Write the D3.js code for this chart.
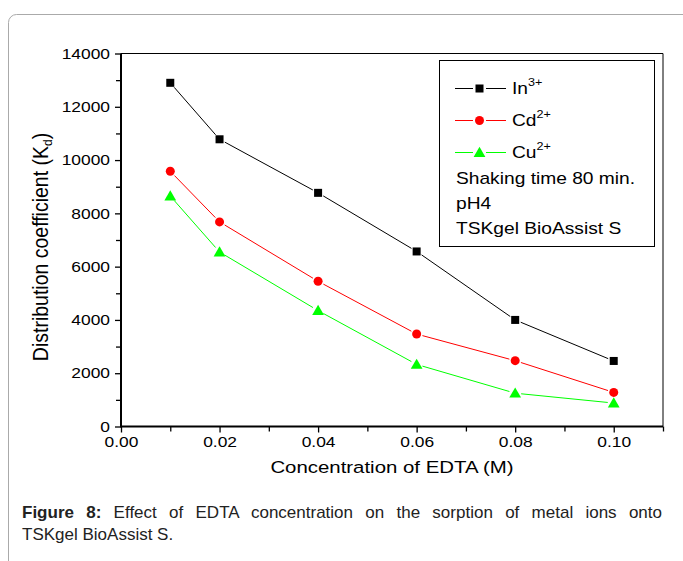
<!DOCTYPE html>
<html lang="en">
	<head>
		<meta charset="utf-8">
		<title>Effect of EDTA concentration</title>
		<style type="text/css">
			body { margin: 0; background: #fff; }
			#wrap { position: relative; width: 683px; height: 561px; overflow: hidden; }
			.cap {
				position: absolute; left: 22px; width: 640px;
				font-family: "Liberation Sans", Arial, sans-serif; font-size: 17px;
				line-height: 20px; color: #222; white-space: nowrap;
			}
			#cap1 { top: 503px; text-align: justify; text-align-last: justify; white-space: normal; }
			#cap2 { top: 525px; }
		</style>
	</head>
	<body>
		<div id="wrap">
			<div class="cap" id="cap1"><b>Figure 8:</b> Effect of EDTA concentration on the sorption of metal ions onto</div>
			<div class="cap" id="cap2">TSKgel BioAssist S.</div>
		</div>
		<script src="https://d3js.org/d3.v7.min.js"></script>
		<script type="text/javascript">
			//Width and height
			var w = 683;
			var h = 561;

			//Data
			var edta = [0.01, 0.02, 0.04, 0.06, 0.08, 0.10];
			var indium = [12900, 10780, 8770, 6570, 4000, 2460];
			var cadmium = [9580, 7680, 5450, 3470, 2470, 1280];
			var copper = [8650, 6550, 4350, 2330, 1250, 880];
			var xTicks = [0, 0.02, 0.04, 0.06, 0.08, 0.10];
			var yTicks = [0, 2000, 4000, 6000, 8000, 10000, 12000, 14000];

			var series = [
				{ name: "In", sup: "3+", values: indium, color: "#000000", shape: "square" },
				{ name: "Cd", sup: "2+", values: cadmium, color: "#ff0000", shape: "circle" },
				{ name: "Cu", sup: "2+", values: copper, color: "#00ff00", shape: "triangle" }
			];
			var notes = ["Shaking time 80 min.", "pH4", "TSKgel BioAssist S"];

			var font = "'Liberation Sans', Arial, sans-serif";
			var stretch = 1.2; // the chart text is drawn a bit wide

			var xScale = d3.scaleLinear().domain([0, 0.11]).range([121, 663]);
			var yScale = d3.scaleLinear().domain([0, 14000]).range([426.5, 53.5]);

			var svg = d3.select("#wrap")
						.insert("svg", "#cap1")
						.attr("width", w)
						.attr("height", h)
						.style("position", "absolute")
						.style("left", 0)
						.style("top", 0);

			//widen a text around its own x
			function widen(sel, s) {
				sel.each(function() {
					var t = d3.select(this);
					var x = +t.attr("x") || 0;
					t.attr("transform", "translate(" + x + ",0) scale(" + s + ",1) translate(" + (-x) + ",0)");
				});
			}

			//Outer frame
			svg.append("rect")
			   .attr("x", 8.5).attr("y", 14.5)
			   .attr("width", 700).attr("height", 600)
			   .attr("rx", 8)
			   .attr("fill", "none")
			   .attr("stroke", "#aaa");

			//Top and right frame of the plot
			svg.append("path")
			   .attr("d", "M" + xScale(0) + "," + yScale(14000) + "H" + xScale(0.11) + "V" + yScale(0))
			   .attr("fill", "none")
			   .attr("stroke", "#000")
			   .attr("stroke-width", 1);

			//Axes
			var xAxis = d3.axisBottom(xScale)
						  .tickValues(xTicks)
						  .tickFormat(d3.format(".2f"))
						  .tickSize(6)
						  .tickPadding(4);
			var xMinor = d3.axisBottom(xScale)
						  .tickValues([0.01, 0.03, 0.05, 0.07, 0.09, 0.11])
						  .tickFormat("")
						  .tickSize(5);
			var yAxis = d3.axisLeft(yScale)
						  .tickValues(yTicks)
						  .tickFormat(d3.format("d"))
						  .tickSize(6)
						  .tickPadding(5);
			var yMinor = d3.axisLeft(yScale)
						  .tickValues([1000, 3000, 5000, 7000, 9000, 11000, 13000])
						  .tickFormat("")
						  .tickSize(5);

			function styleAxis(g) {
				g.select(".domain").remove();
				g.selectAll(".tick line").attr("stroke", "#000").attr("stroke-width", 1.3);
				g.selectAll("text")
				 .attr("font-family", font).attr("font-size", "14.5px").attr("fill", "#000")
				 .call(widen, stretch);
			}

			svg.append("g").attr("transform", "translate(0," + yScale(0) + ")").call(xMinor).call(styleAxis);
			svg.append("g").attr("transform", "translate(0," + yScale(0) + ")").call(xAxis).call(styleAxis);
			svg.append("g").attr("transform", "translate(" + xScale(0) + ",0)").call(yMinor).call(styleAxis);
			svg.append("g").attr("transform", "translate(" + xScale(0) + ",0)").call(yAxis).call(styleAxis);

			//Thick axis lines
			svg.append("line")
			   .attr("x1", xScale(0)).attr("x2", xScale(0.11))
			   .attr("y1", yScale(0)).attr("y2", yScale(0))
			   .attr("stroke", "#000").attr("stroke-width", 2);
			svg.append("line")
			   .attr("x1", xScale(0)).attr("x2", xScale(0))
			   .attr("y1", yScale(0) + 1).attr("y2", yScale(14000))
			   .attr("stroke", "#000").attr("stroke-width", 2);

			//Axis titles
			svg.append("text")
			   .attr("x", 392).attr("y", 473)
			   .attr("text-anchor", "middle")
			   .attr("font-family", font).attr("font-size", "17px")
			   .text("Concentration of EDTA (M)")
			   .call(widen, stretch);

			var yTitle = svg.append("text")
			   .attr("transform", "translate(48,247) scale(1.1,1) rotate(-90)")
			   .attr("text-anchor", "middle")
			   .attr("font-family", font).attr("font-size", "19.5px");
			yTitle.append("tspan").text("Distribution coefficient (K");
			yTitle.append("tspan").attr("font-size", "12px").attr("dy", 4).text("d");
			yTitle.append("tspan").attr("dy", -4).text(")");

			//Marker drawing
			function drawMarker(g, shape, color, x, y) {
				if (shape === "square") {
					g.append("rect").attr("x", x - 4).attr("y", y - 4).attr("width", 8).attr("height", 8).attr("fill", color);
				} else if (shape === "circle") {
					g.append("circle").attr("cx", x).attr("cy", y).attr("r", 4.5).attr("fill", color);
				} else {
					g.append("path")
					 .attr("d", d3.symbol().type(d3.symbolTriangle).size(60)())
					 .attr("transform", "translate(" + x + "," + (y + 1) + ")")
					 .attr("fill", color);
				}
			}

			//Lines with small gaps around the markers
			var gap = 6;
			series.forEach(function(s) {
				var g = svg.append("g");
				var pts = s.values.map(function(v, i) { return [xScale(edta[i]), yScale(v)]; });
				for (var i = 0; i < pts.length - 1; i++) {
					var a = pts[i], b = pts[i + 1];
					var dx = b[0] - a[0], dy = b[1] - a[1];
					var len = Math.sqrt(dx * dx + dy * dy);
					var ux = dx / len, uy = dy / len;
					g.append("line")
					 .attr("x1", a[0] + ux * gap).attr("y1", a[1] + uy * gap)
					 .attr("x2", b[0] - ux * gap).attr("y2", b[1] - uy * gap)
					 .attr("stroke", s.color).attr("stroke-width", 1);
				}
				pts.forEach(function(p) { drawMarker(g, s.shape, s.color, p[0], p[1]); });
			});

			//Legend box
			var lg = svg.append("g");
			lg.append("rect")
			  .attr("x", 439.5).attr("y", 60.5)
			  .attr("width", 215).attr("height", 186)
			  .attr("fill", "#fff")
			  .attr("stroke", "#000").attr("stroke-width", 1);

			series.forEach(function(s, i) {
				var yy = 88.5 + i * 32;
				lg.append("line").attr("x1", 455).attr("x2", 473).attr("y1", yy).attr("y2", yy).attr("stroke", s.color);
				lg.append("line").attr("x1", 486).attr("x2", 506).attr("y1", yy).attr("y2", yy).attr("stroke", s.color);
				drawMarker(lg, s.shape, s.color, 479.5, yy);
				var t = lg.append("text")
				  .attr("x", 512).attr("y", yy + 6)
				  .attr("font-family", font).attr("font-size", "16px");
				t.append("tspan").text(s.name);
				t.append("tspan").attr("font-size", "10.5px").attr("dy", -8).text(s.sup);
				t.call(widen, stretch);
			});

			notes.forEach(function(n, i) {
				lg.append("text")
				  .attr("x", 456).attr("y", 184 + i * 25)
				  .attr("font-family", font).attr("font-size", "16px")
				  .text(n)
				  .call(widen, stretch);
			});
		</script>
	</body>
</html>
